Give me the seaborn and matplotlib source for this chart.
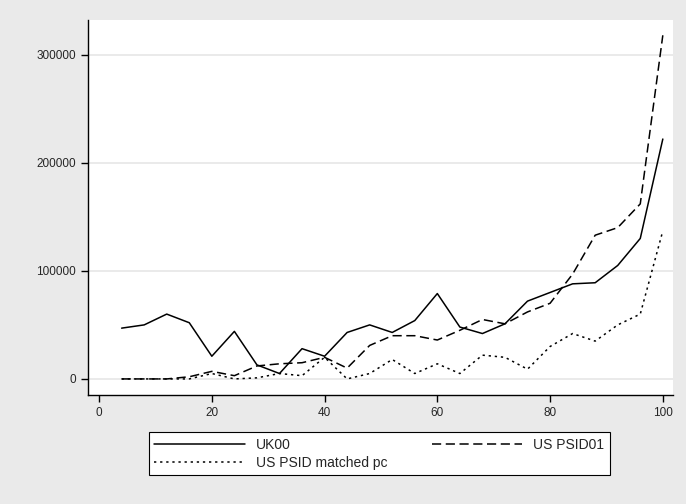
import numpy as np
import pandas as pd
import matplotlib.pyplot as plt
import seaborn as sns

pct = list(range(4, 101, 4))
uk00 = [47000, 50000, 60000, 52000, 21000, 44000, 13000, 5000, 28000, 21000,
        43000, 50000, 43000, 54000, 79000, 48000, 42000, 51000, 72000, 80000,
        88000, 89000, 105000, 130000, 222000]
us_psid01 = [0, 0, 0, 2000, 7000, 3000, 12000, 14000, 15000, 20000,
             10000, 31000, 40000, 40000, 36000, 45000, 55000, 51000, 62000, 70000,
             97000, 133000, 140000, 162000, 318000]
us_matched = [0, 0, 0, 0, 5000, 0, 1000, 5000, 3000, 20000,
              0, 5000, 18000, 5000, 14000, 5000, 22000, 20000, 9000, 30000,
              42000, 35000, 50000, 60000, 137000]

df = pd.DataFrame({'pct': pct, 'UK00': uk00, 'US PSID01': us_psid01,
                   'US PSID matched pc': us_matched})

sns.set_style('white')
plt.rcParams['font.family'] = ['Liberation Sans', 'DejaVu Sans']

fig = plt.figure(figsize=(6.86, 5.04), dpi=100, facecolor='#eaeaea')
ax = fig.add_axes([0.128, 0.216, 0.853, 0.744])
ax.set_facecolor('white')

styles = {'UK00': '-', 'US PSID01': (0, (6, 3)), 'US PSID matched pc': (0, (1.5, 2.5))}
for col, ls in styles.items():
    sns.lineplot(data=df, x='pct', y=col, ax=ax, color='black', lw=1.1,
                 linestyle=ls, label=col, legend=False)

ax.set_xlim(-2, 101.8)
ax.set_ylim(-15000, 332000)
ax.set_xticks([0, 20, 40, 60, 80, 100])
ax.set_yticks([0, 100000, 200000, 300000])
ax.yaxis.grid(True, color='#e6e6e6', lw=1.2)
ax.set_xlabel('')
ax.set_ylabel('')
for s in ['top', 'right']:
    ax.spines[s].set_visible(False)
for s in ['left', 'bottom']:
    ax.spines[s].set_color('black')
    ax.spines[s].set_linewidth(1)
ax.tick_params(direction='out', length=5, width=1, color='black', labelsize=8.5,
               left=True, bottom=True)

handles, labels = ax.get_legend_handles_labels()
order = [0, 2, 1]
leg = fig.legend([handles[i] for i in order], [labels[i] for i in order],
                 ncol=2, loc='center',
                 bbox_to_anchor=(0.553, 0.1), fontsize=10, frameon=True,
                 fancybox=False, edgecolor='black', facecolor='white',
                 framealpha=1, handlelength=6.5, columnspacing=3.2,
                 borderpad=0.4, labelspacing=0.3)
leg.get_frame().set_linewidth(0.8)

fig.savefig('out.png', dpi=100, facecolor=fig.get_facecolor())
